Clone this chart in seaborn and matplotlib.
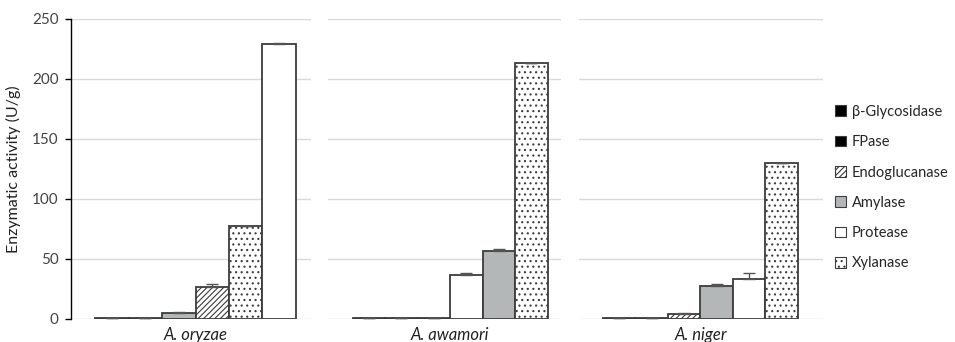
import numpy as np
import pandas as pd
import matplotlib
matplotlib.use("Agg")
import matplotlib.pyplot as plt
import seaborn as sns
from matplotlib.patches import Patch

enzymes = ["β-Glycosidase", "FPase", "Endoglucanase", "Amylase", "Protease", "Xylanase"]
strains = ["A. oryzae", "A. awamori", "A. niger"]

oryzae_vals = [0.6, 0.9, 26.5, 5.2, 229.0, 77.5]
oryzae_err = [0, 0, 3.0, 0.5, 1.0, 0]
awamori_vals = [0.5, 0.6, 0.8, 57.0, 37.0, 213.5]
awamori_err = [0, 0, 0, 1.0, 1.3, 0]
niger_vals = [0.6, 0.8, 4.0, 27.5, 33.0, 130.0]
niger_err = [0, 0, 1.3, 2.0, 5.0, 0]

values = [oryzae_vals, awamori_vals, niger_vals]
errors = [oryzae_err, awamori_err, niger_err]

colors = {
    "β-Glycosidase": "black",
    "FPase": "black",
    "Endoglucanase": "white",
    "Amylase": "#b4b7b7",
    "Protease": "white",
    "Xylanase": "white",
}
hatches = {
    "β-Glycosidase": "",
    "FPase": "",
    "Endoglucanase": "//////",
    "Amylase": "",
    "Protease": "",
    "Xylanase": "...",
}

sns.set_style("white")
plt.rcParams["font.family"] = ["Lato", "DejaVu Sans"]
plt.rcParams["hatch.linewidth"] = 0.8

fig = plt.figure(figsize=(9.55, 3.42), dpi=100)
W, H = 955, 342
boxes = [(71, 311), (328, 561), (579, 823)]
limits = [(-1.22, 5.95), (-1.26, 5.91), (-1.23, 6.27)]
top_px, bot_px = 19, 319
edge = "#3c3c3c"

for i, strain in enumerate(strains):
    x0, x1 = boxes[i]
    ax = fig.add_axes([x0 / W, 1 - bot_px / H, (x1 - x0) / W, (bot_px - top_px) / H])
    df = pd.DataFrame({"enzyme": enzymes, "value": values[i], "err": errors[i]})
    df = df.sort_values("value").reset_index(drop=True)
    order = list(df["enzyme"])
    sns.barplot(
        data=df, x="enzyme", y="value", hue="enzyme",
        order=order, hue_order=order, palette=colors,
        width=1.0, errorbar=None, edgecolor=edge, linewidth=1.3,
        legend=False, ax=ax, zorder=3,
    )
    for cont, name in zip(ax.containers, order):
        for bar in cont:
            bar.set_hatch(hatches[name])
    ax.errorbar(
        np.arange(len(order)), df["value"],
        yerr=[np.zeros(len(order)), df["err"]],
        fmt="none", ecolor="#555555", elinewidth=1.0, capsize=4, capthick=1.0,
        zorder=4,
    )
    ax.set_ylim(0, 250)
    ax.set_xlim(*limits[i])
    ax.set_yticks([0, 50, 100, 150, 200, 250])
    ax.yaxis.grid(True, color="#d9d9d9", linewidth=1.0, zorder=0)
    ax.xaxis.grid(False)
    ax.set_xticks([2.5])
    ax.set_xticklabels([strain], fontstyle="italic", fontsize=12, color="#222222")
    ax.tick_params(axis="x", length=0, pad=6)
    ax.set_xlabel("")
    for s in ["top", "right", "bottom"]:
        ax.spines[s].set_visible(False)
    if i == 0:
        ax.spines["left"].set_color("black")
        ax.spines["left"].set_linewidth(1.0)
        ax.tick_params(axis="y", left=True, length=4, width=1.0, colors="black",
                       labelcolor="#444444", labelsize=11, pad=5)
        ax.set_ylabel("Enzymatic activity (U/g)", fontsize=11.5, color="#222222", labelpad=8)
    else:
        ax.spines["left"].set_visible(False)
        ax.tick_params(axis="y", left=False, labelleft=False)
        ax.set_ylabel("")

handles = [
    Patch(facecolor=colors[e], edgecolor=edge, hatch=hatches[e], linewidth=0.8)
    for e in enzymes
]
fig.legend(
    handles, enzymes, loc="upper left", bbox_to_anchor=(829 / W, 1 - 99 / H),
    frameon=False, fontsize=10.5, handlelength=0.75, handleheight=0.75,
    handletextpad=0.4, labelspacing=1.12, borderaxespad=0,
)

fig.savefig("out.png", dpi=100)
